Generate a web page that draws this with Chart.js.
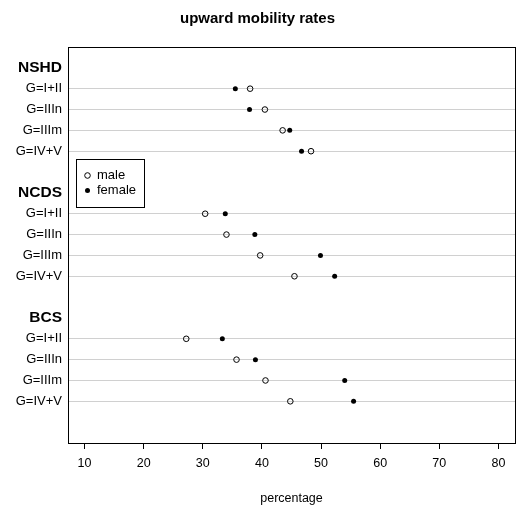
<!DOCTYPE html>
<html>
<head>
<meta charset="utf-8">
<script src="https://cdn.jsdelivr.net/npm/chart.js@4"></script>
<style>
  html, body { margin: 0; padding: 0; background: #fff; }
  #wrap { width: 516px; height: 508px; }
</style>
</head>
<body>
<div id="wrap"><canvas id="chart" width="516" height="508"></canvas></div>
<script>
const groups = ['NSHD', 'NCDS', 'BCS'];
const classes = ['G=I+II', 'G=IIIn', 'G=IIIm', 'G=IV+V'];

// values, in the order of classes
const nshdMale = [38.0, 40.5, 43.5, 48.3];
const nshdFemale = [35.5, 37.9, 44.7, 46.7];
const ncdsMale = [30.4, 34.0, 39.7, 45.5];
const ncdsFemale = [33.8, 38.8, 49.9, 52.3];
const bcsMale = [27.2, 35.7, 40.6, 44.8];
const bcsFemale = [33.3, 38.9, 54.0, 55.5];

const xTicks = [10, 20, 30, 40, 50, 60, 70, 80];

const maleByGroup = [nshdMale, ncdsMale, bcsMale];
const femaleByGroup = [nshdFemale, ncdsFemale, bcsFemale];

// dotchart-style row positions: groups stacked from the bottom with a gap
const rowY = (g, i) => (groups.length - 1 - g) * (classes.length + 2) + (classes.length - i);
const groupY = (g) => (groups.length - 1 - g) * (classes.length + 2) + classes.length + 1;

const labelAt = {};
const groupTicks = [];
groups.forEach((name, g) => {
  labelAt[groupY(g)] = name;
  groupTicks.push(groupY(g));
  classes.forEach((c, i) => { labelAt[rowY(g, i)] = c; });
});
const yTickValues = Object.keys(labelAt).map(Number).sort((a, b) => a - b);

const toPoints = (lists) => lists.flatMap((vals, g) => vals.map((v, i) => ({ x: v, y: rowY(g, i) })));

const fontFamily = '"Liberation Sans", Arial, Helvetica, sans-serif';

const frameAndLegend = {
  id: 'frameAndLegend',
  afterDraw(chart) {
    const { ctx, chartArea: a } = chart;
    ctx.save();
    ctx.strokeStyle = '#000';
    ctx.lineWidth = 1;
    ctx.strokeRect(a.left + 0.5, a.top + 0.5, a.right - a.left, a.bottom - a.top);

    // legend box
    const bx = a.left + 8, by = 159, bw = 68, bh = 48;
    ctx.strokeRect(bx + 0.5, by + 0.5, bw, bh);
    ctx.font = '13px ' + fontFamily;
    ctx.textBaseline = 'middle';
    ctx.fillStyle = '#000';
    chart.data.datasets.forEach((ds, k) => {
      const cy = by + 16.5 + k * 15;
      const cx = bx + 11.5;
      ctx.beginPath();
      ctx.arc(cx, cy, ds.pointRadius, 0, Math.PI * 2);
      ctx.fillStyle = ds.backgroundColor;
      ctx.fill();
      if (ds.borderWidth) {
        ctx.lineWidth = ds.borderWidth;
        ctx.strokeStyle = ds.borderColor;
        ctx.stroke();
      }
      ctx.fillStyle = '#000';
      ctx.fillText(ds.label, bx + 21, cy);
    });
    ctx.restore();
  }
};

new Chart(document.getElementById('chart'), {
  type: 'scatter',
  data: {
    datasets: [
      {
        label: 'male',
        data: toPoints(maleByGroup),
        pointRadius: 2.8,
        pointHoverRadius: 2.8,
        borderWidth: 1,
        borderColor: '#000',
        backgroundColor: 'rgba(255,255,255,0)'
      },
      {
        label: 'female',
        data: toPoints(femaleByGroup),
        pointRadius: 2.5,
        pointHoverRadius: 2.5,
        borderWidth: 0,
        borderColor: '#000',
        backgroundColor: '#000'
      }
    ]
  },
  options: {
    responsive: false,
    animation: false,
    events: [],
    layout: { autoPadding: false, padding: { top: 0, right: 1, bottom: 0, left: 0 } },
    plugins: {
      legend: { display: false },
      tooltip: { enabled: false },
      title: {
        display: true,
        text: 'upward mobility rates',
        color: '#000',
        font: { family: fontFamily, size: 15, weight: 'bold' },
        padding: { top: 10, bottom: 19 }
      }
    },
    scales: {
      x: {
        type: 'linear',
        min: 7.2,
        max: 82.8,
        afterBuildTicks: (scale) => { scale.ticks = xTicks.map((v) => ({ value: v })); },
        afterFit: (scale) => {
          scale.height = 65;
          scale.paddingLeft = 0;
          scale.paddingRight = 0;
        },
        border: { display: false },
        grid: { drawOnChartArea: false, drawTicks: true, tickLength: 6, color: '#000', lineWidth: 1 },
        ticks: {
          color: '#000',
          padding: 7,
          maxRotation: 0,
          font: { family: fontFamily, size: 12.5 }
        },
        title: {
          display: true,
          text: 'percentage',
          color: '#000',
          font: { family: fontFamily, size: 12.5 },
          padding: { top: 0, bottom: 2 }
        }
      },
      y: {
        type: 'linear',
        min: -1,
        max: 18,
        afterBuildTicks: (scale) => { scale.ticks = yTickValues.map((v) => ({ value: v })); },
        afterFit: (scale) => {
          scale.width = 68;
          scale.paddingTop = 0;
          scale.paddingBottom = 0;
        },
        border: { display: false },
        grid: {
          drawTicks: false,
          lineWidth: 1,
          color: (ctx) => (ctx.tick && groupTicks.includes(ctx.tick.value) ? 'rgba(0,0,0,0)' : '#d0d0d0')
        },
        ticks: {
          color: '#000',
          padding: 6,
          autoSkip: false,
          callback: (value) => labelAt[value] || '',
          font: (ctx) => (ctx.tick && groupTicks.includes(ctx.tick.value)
            ? { family: fontFamily, size: 15.5, weight: 'bold' }
            : { family: fontFamily, size: 13 })
        }
      }
    }
  },
  plugins: [frameAndLegend]
});
</script>
</body>
</html>
